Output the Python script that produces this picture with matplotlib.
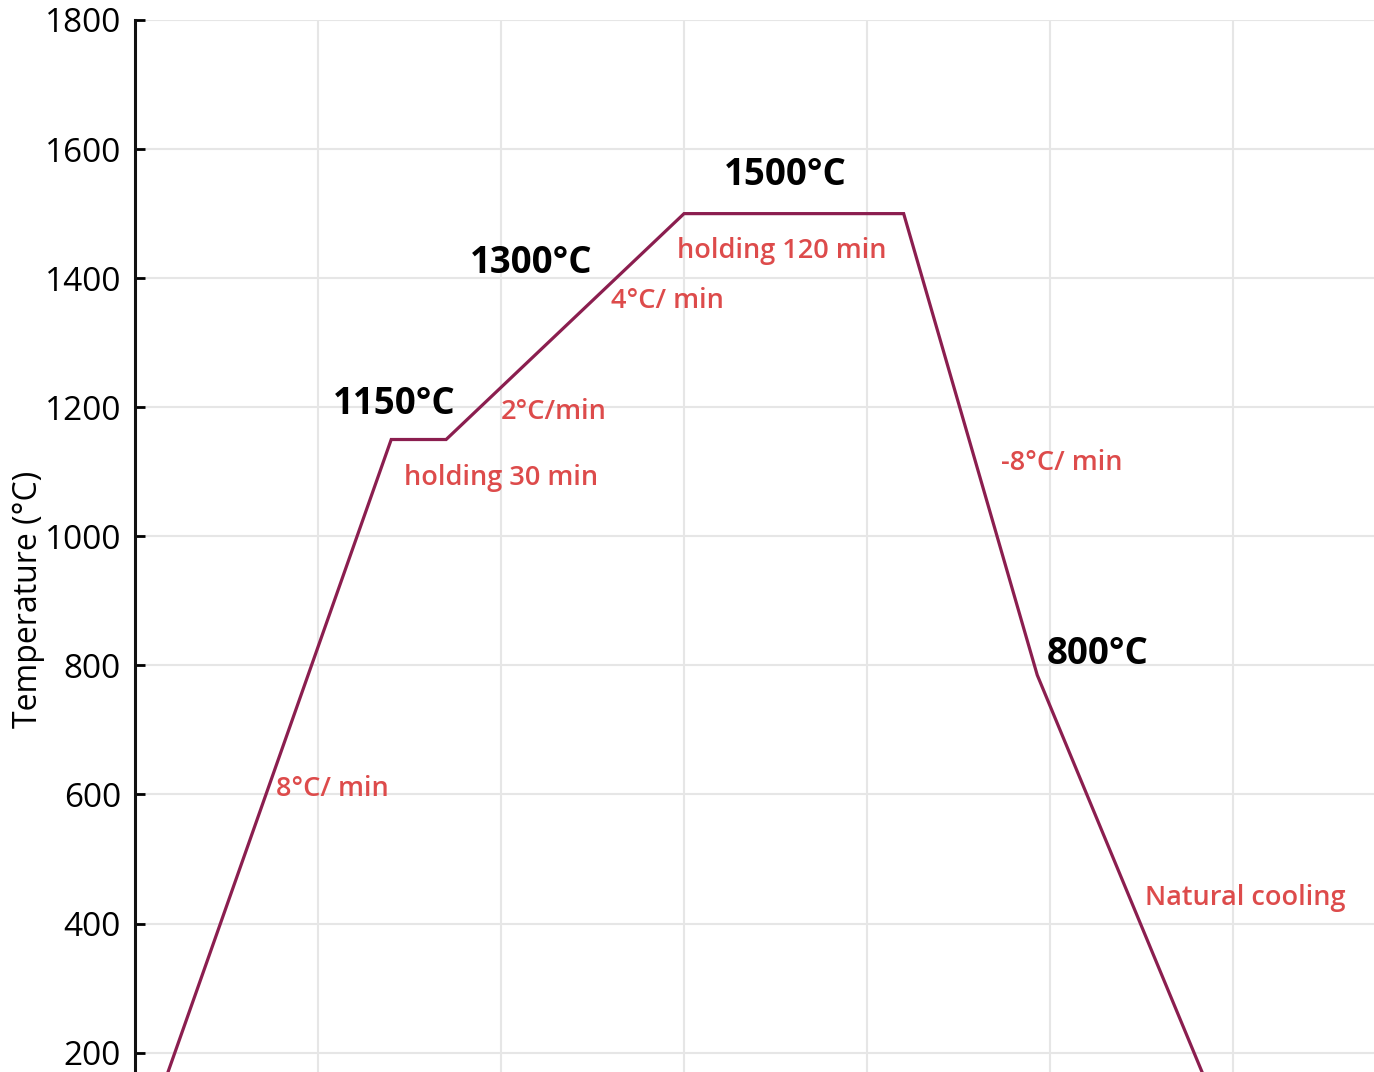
import matplotlib
matplotlib.use("Agg")
import matplotlib.pyplot as plt

# Heating profile: time (min) vs temperature (°C)
time_min = [0, 140, 170, 300, 420, 493, 605]
temp_c = [25, 1150, 1150, 1500, 1500, 785, 20]

y_ticks = [200, 400, 600, 800, 1000, 1200, 1400, 1600, 1800]
x_grid = [100, 200, 300, 400, 500, 600]

# Black temperature labels: (text, x, y)
temp_labels = [
    ("1150°C", 108, 1205),
    ("1300°C", 183, 1424),
    ("1500°C", 322, 1560),
    ("800°C", 498, 818),
]
# Red step labels: (text, x, y)
step_labels = [
    ("8°C/ min", 77, 609),
    ("holding 30 min", 147, 1091),
    ("2°C/min", 200, 1193),
    ("4°C/ min", 260, 1365),
    ("holding 120 min", 296, 1442),
    ("-8°C/ min", 473, 1114),
    ("Natural cooling", 552, 440),
]

plt.rcParams['font.family'] = ['Open Sans', 'DejaVu Sans']

fig = plt.figure(figsize=(13.74, 10.72), dpi=100)
ax = fig.add_axes([135 / 1374, 0.0, 1 - 135 / 1374, 1 - 20 / 1072])

ax.plot(time_min, temp_c, color='#8b1e4f', lw=2.3, solid_joinstyle='miter', zorder=3)

ax.set_xlim(0, 677)
ax.set_ylim(170, 1800)
ax.set_yticks(y_ticks)
ax.set_xticks(x_grid)
ax.tick_params(axis='y', direction='in', length=7, width=2, labelsize=24, pad=10)
ax.tick_params(axis='x', bottom=False, labelbottom=False)
ax.grid(True, color='#e6e6e6', lw=1.5)
ax.set_axisbelow(True)
for s in ['top', 'right', 'bottom']:
    ax.spines[s].set_visible(False)
ax.spines['left'].set_linewidth(2.2)
ax.spines['left'].set_color('#111111')
ax.set_ylabel("Temperature (°C)", fontsize=23)
ax.yaxis.set_label_coords(-0.073, 0.449)

for txt, x, y in temp_labels:
    ax.text(x, y, txt, fontsize=26.4, fontweight='bold', color='black',
            ha='left', va='center', zorder=4)
for txt, x, y in step_labels:
    ax.text(x, y, txt, fontsize=19.5, fontweight='semibold', color='#dd4b4b',
            ha='left', va='center', zorder=4)

fig.savefig("out.png", dpi=100)
